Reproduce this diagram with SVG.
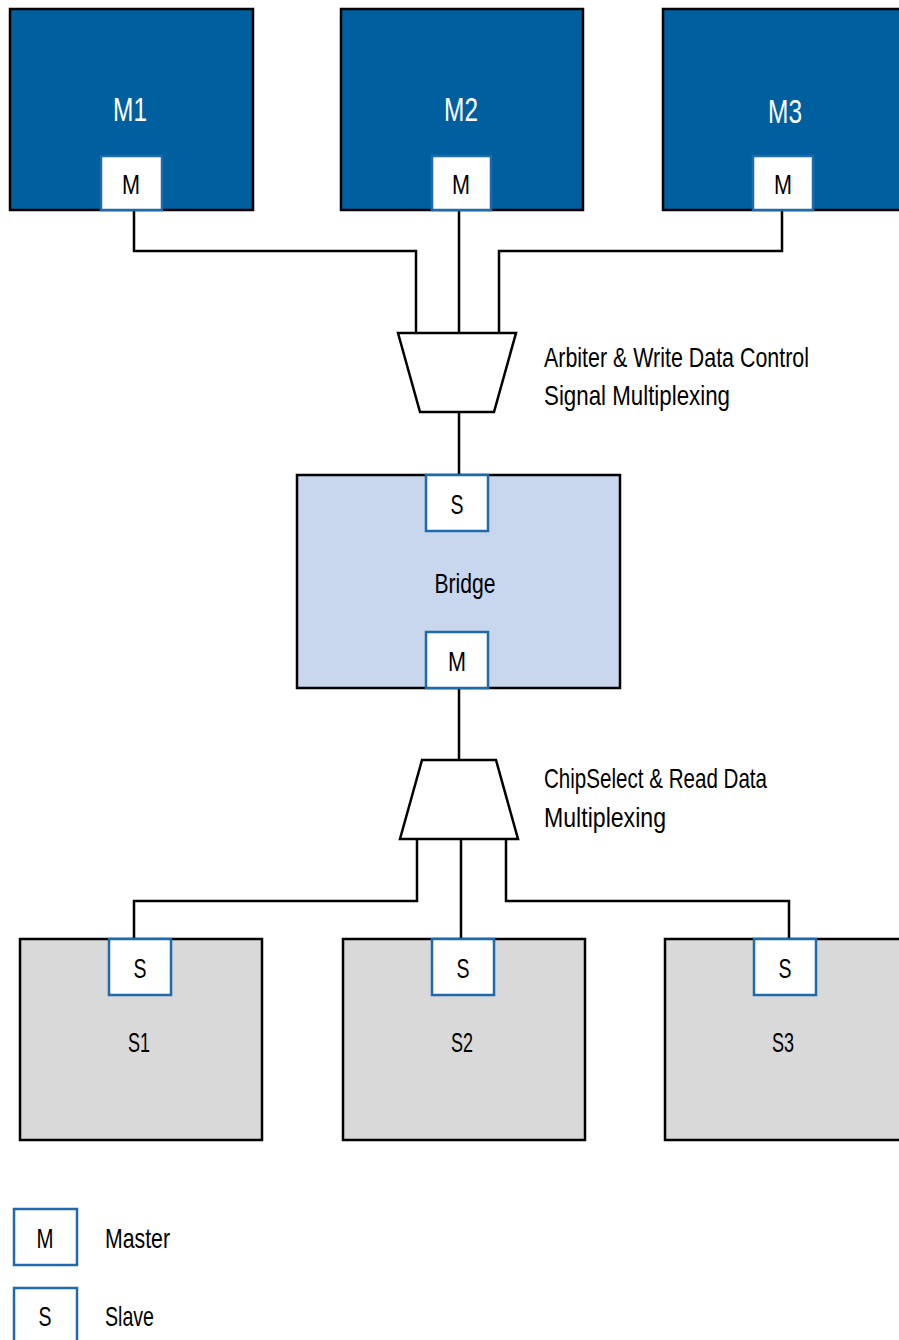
<svg xmlns="http://www.w3.org/2000/svg" width="899" height="1340" viewBox="0 0 899 1340">
<style>
text{font-family:"Liberation Sans Narrow","Liberation Sans",Arial,sans-serif;font-size:28px;fill:#000}
.mst{fill:#00609f;stroke:#000;stroke-width:2.5}
.brg{fill:#c8d6ee;stroke:#000;stroke-width:2.5}
.slv{fill:#d9d9d9;stroke:#000;stroke-width:2.5}
.port{fill:#fff;stroke:#1f6aab;stroke-width:2.5}
.title{font-size:33px;fill:#fff;text-anchor:middle}
.c{text-anchor:middle}
.wire{fill:none;stroke:#000;stroke-width:2.5}
.mux{fill:#fff;stroke:#000;stroke-width:2.5;stroke-linejoin:miter}
</style>
<rect width="899" height="1340" fill="#fff"/>
<g id="connectors">
<path class="wire" d="M134,210 V251 H416 V333"/>
<path class="wire" d="M459,210 V333"/>
<path class="wire" d="M782,210 V251 H499 V333"/>
<path class="wire" d="M459,412 V475"/>
<path class="wire" d="M459,688 V760"/>
<path class="wire" d="M417,839 V901 H134 V939"/>
<path class="wire" d="M461,839 V939"/>
<path class="wire" d="M506,839 V901 H789 V939"/>
</g>
<g id="M1">
<rect class="mst" x="10" y="9" width="243" height="201"/>
<text class="title" x="130" y="121" textLength="34" lengthAdjust="spacingAndGlyphs">M1</text>
<rect class="port" x="101" y="156" width="61" height="54"/>
<text class="c" x="131" y="194" textLength="18" lengthAdjust="spacingAndGlyphs">M</text>
</g>
<g id="M2">
<rect class="mst" x="341" y="9" width="242" height="201"/>
<text class="title" x="461" y="121" textLength="34" lengthAdjust="spacingAndGlyphs">M2</text>
<rect class="port" x="432" y="156" width="59" height="54"/>
<text class="c" x="461" y="194" textLength="18" lengthAdjust="spacingAndGlyphs">M</text>
</g>
<g id="M3">
<rect class="mst" x="663" y="9" width="250" height="201"/>
<text class="title" x="785" y="123" textLength="34" lengthAdjust="spacingAndGlyphs">M3</text>
<rect class="port" x="753" y="156" width="60" height="54"/>
<text class="c" x="783" y="194" textLength="18" lengthAdjust="spacingAndGlyphs">M</text>
</g>
<g id="mux1">
<polygon class="mux" points="398,333 516,333 494,412 420,412"/>
<text x="544" y="367" textLength="265" lengthAdjust="spacingAndGlyphs">Arbiter &amp; Write Data Control</text>
<text x="544" y="405" textLength="186" lengthAdjust="spacingAndGlyphs">Signal Multiplexing</text>
</g>
<g id="Bridge">
<rect class="brg" x="297" y="475" width="323" height="213"/>
<rect class="port" x="426" y="475" width="62" height="56"/>
<text class="c" x="457" y="514" textLength="13" lengthAdjust="spacingAndGlyphs">S</text>
<text class="c" x="465" y="593" textLength="61" lengthAdjust="spacingAndGlyphs">Bridge</text>
<rect class="port" x="426" y="632" width="62" height="56"/>
<text class="c" x="457" y="671" textLength="18" lengthAdjust="spacingAndGlyphs">M</text>
</g>
<g id="mux2">
<polygon class="mux" points="422,760 496,760 518,839 400,839"/>
<text x="544" y="788" textLength="223" lengthAdjust="spacingAndGlyphs">ChipSelect &amp; Read Data</text>
<text x="544" y="827" textLength="122" lengthAdjust="spacingAndGlyphs">Multiplexing</text>
</g>
<g id="S1">
<rect class="slv" x="20" y="939" width="242" height="201"/>
<rect class="port" x="109" y="939" width="62" height="56"/>
<text class="c" x="140" y="978" textLength="13" lengthAdjust="spacingAndGlyphs">S</text>
<text class="c" x="139" y="1052" textLength="22" lengthAdjust="spacingAndGlyphs">S1</text>
</g>
<g id="S2">
<rect class="slv" x="343" y="939" width="242" height="201"/>
<rect class="port" x="432" y="939" width="62" height="56"/>
<text class="c" x="463" y="978" textLength="13" lengthAdjust="spacingAndGlyphs">S</text>
<text class="c" x="462" y="1052" textLength="22" lengthAdjust="spacingAndGlyphs">S2</text>
</g>
<g id="S3">
<rect class="slv" x="665" y="939" width="250" height="201"/>
<rect class="port" x="754" y="939" width="62" height="56"/>
<text class="c" x="785" y="978" textLength="13" lengthAdjust="spacingAndGlyphs">S</text>
<text class="c" x="783" y="1052" textLength="22" lengthAdjust="spacingAndGlyphs">S3</text>
</g>
<g id="legend">
<rect class="port" x="14" y="1209" width="63" height="56"/>
<text class="c" x="45" y="1248" textLength="17" lengthAdjust="spacingAndGlyphs">M</text>
<text x="105" y="1248" textLength="65" lengthAdjust="spacingAndGlyphs">Master</text>
<rect class="port" x="14" y="1288" width="63" height="60"/>
<text class="c" x="45" y="1326" textLength="13" lengthAdjust="spacingAndGlyphs">S</text>
<text x="105" y="1326" textLength="49" lengthAdjust="spacingAndGlyphs">Slave</text>
</g>
</svg>
